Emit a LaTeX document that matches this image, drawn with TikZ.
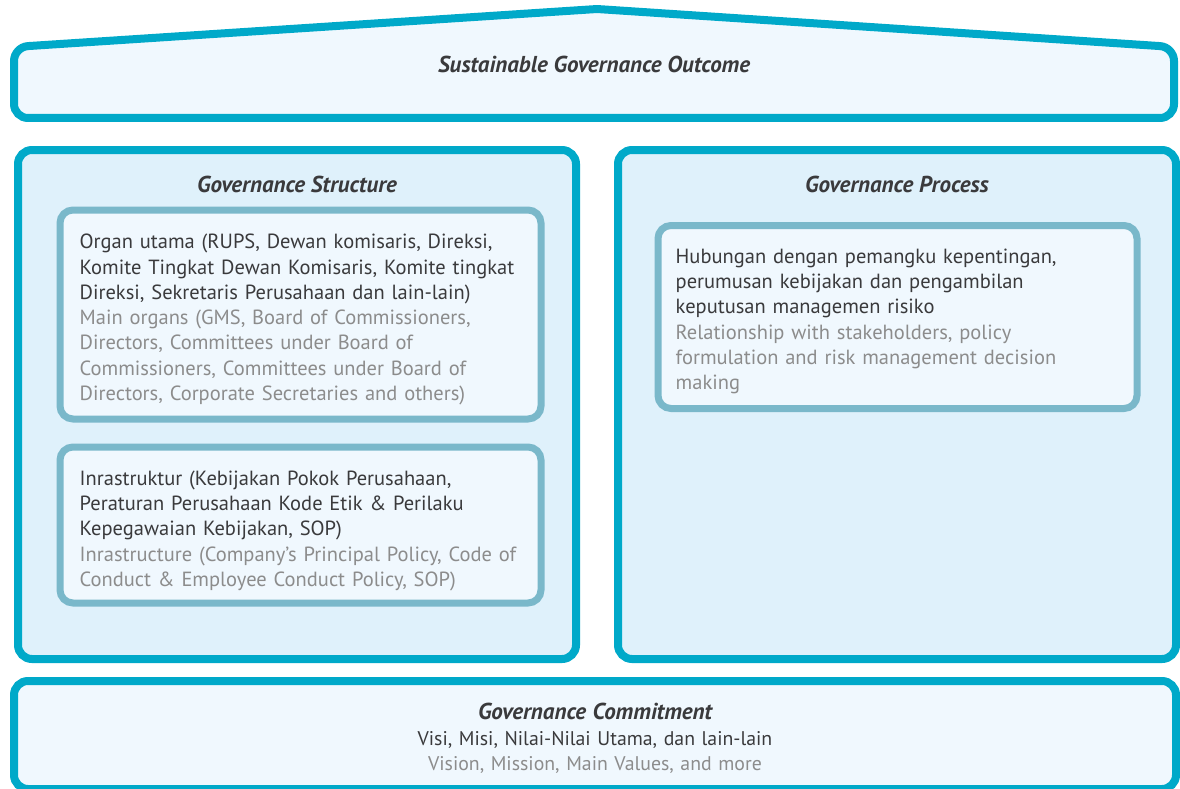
\documentclass[tikz,border=0pt]{standalone}
\usepackage{fontspec}
\setmainfont{PT Sans}
\usepackage{tikz}
\usetikzlibrary{positioning}
\definecolor{govblue}{HTML}{00A9C9}
\definecolor{panelfill}{HTML}{DFF1FB}
\definecolor{lightfill}{HTML}{F0F8FE}
\definecolor{cardline}{HTML}{7AB8CA}
\definecolor{darktext}{HTML}{3A3A3C}
\definecolor{greytext}{HTML}{8C8C8C}

\begin{document}
\begin{tikzpicture}[
    x=1pt, y=-1pt,
    frame/.style={draw=govblue, line width=8pt, rounded corners=14pt,
                  fill=panelfill, inner sep=0pt},
    card/.style={draw=cardline, line width=7pt, rounded corners=13pt,
                 fill=lightfill, inner sep=0pt},
    heading/.style={font=\fontsize{23}{25}\selectfont\bfseries\itshape,
                    text=darktext, inner sep=0pt},
    body/.style={font=\fontsize{20.5}{25.3}\selectfont, text=darktext,
                 align=left, inner sep=0pt, text width=480pt},
]
\useasboundingbox (0,0) rectangle (1180,789);

% roof
\draw[draw=govblue, line width=8pt, fill=lightfill, rounded corners=14pt]
    (14,118) -- (14,47) [rounded corners=2pt]-- (597,9)
    [rounded corners=14pt]-- (1174,47) -- (1174,118) -- cycle;
\node[heading] (outcome) at (594,64) {Sustainable Governance Outcome};

% middle panels
\node[frame, minimum width=558pt, minimum height=509pt] (structure) at (297,404.5) {};
\node[frame, minimum width=558pt, minimum height=509pt] (process) at (897,404.5) {};
\node[heading, below=30pt of structure.north] (structuretitle) {Governance Structure};
\node[heading, below=30pt of process.north] (processtitle) {Governance Process};

\node[card, minimum width=481pt, minimum height=209pt] (organ) at (300.5,314.5) {};
\node[card, minimum width=481pt, minimum height=156pt] (infra) at (300.5,525) {};
\node[card, minimum width=479pt, minimum height=183pt] (relation) at (897.5,317) {};

\node[body, below right=27.5pt and 23pt of organ.north west] (organtext)
    {Organ utama (RUPS, Dewan komisaris, Direksi,\\
     Komite Tingkat Dewan Komisaris, Komite tingkat\\
     Direksi, Sekretaris Perusahaan dan lain-lain)\par
     \color{greytext}Main organs (GMS, Board of Commissioners,\\
     Directors, Committees under Board of\\
     Commissioners, Committees under Board of\\
     Directors, Corporate Secretaries and others)};
\node[body, below right=27pt and 23pt of infra.north west] (infratext)
    {Inrastruktur (Kebijakan Pokok Perusahaan,\\
     Peraturan Perusahaan Kode Etik \& Perilaku\\
     Kepegawaian Kebijakan, SOP)\par
     \color{greytext}Inrastructure (Company’s Principal Policy, Code of\\
     Conduct \& Employee Conduct Policy, SOP)};
\node[body, below right=26.5pt and 21pt of relation.north west] (relationtext)
    {Hubungan dengan pemangku kepentingan,\\
     perumusan kebijakan dan pengambilan\\
     keputusan managemen risiko\par
     \color{greytext}Relationship with stakeholders, policy\\
     formulation and risk management decision\\
     making};

% foundation
\node[frame, fill=lightfill, minimum width=1162pt, minimum height=108pt] (commitment) at (595,735) {};
\node[body, align=center, text width=800pt, below=26pt of commitment.north,
      font=\fontsize{19.8}{25.5}\selectfont] (commitmenttext)
    {{\fontsize{23}{25.5}\selectfont\bfseries\itshape Governance Commitment}\par
     Visi, Misi, Nilai-Nilai Utama, dan lain-lain\par
     \color{greytext}Vision, Mission, Main Values, and more};
\end{tikzpicture}
\end{document}
